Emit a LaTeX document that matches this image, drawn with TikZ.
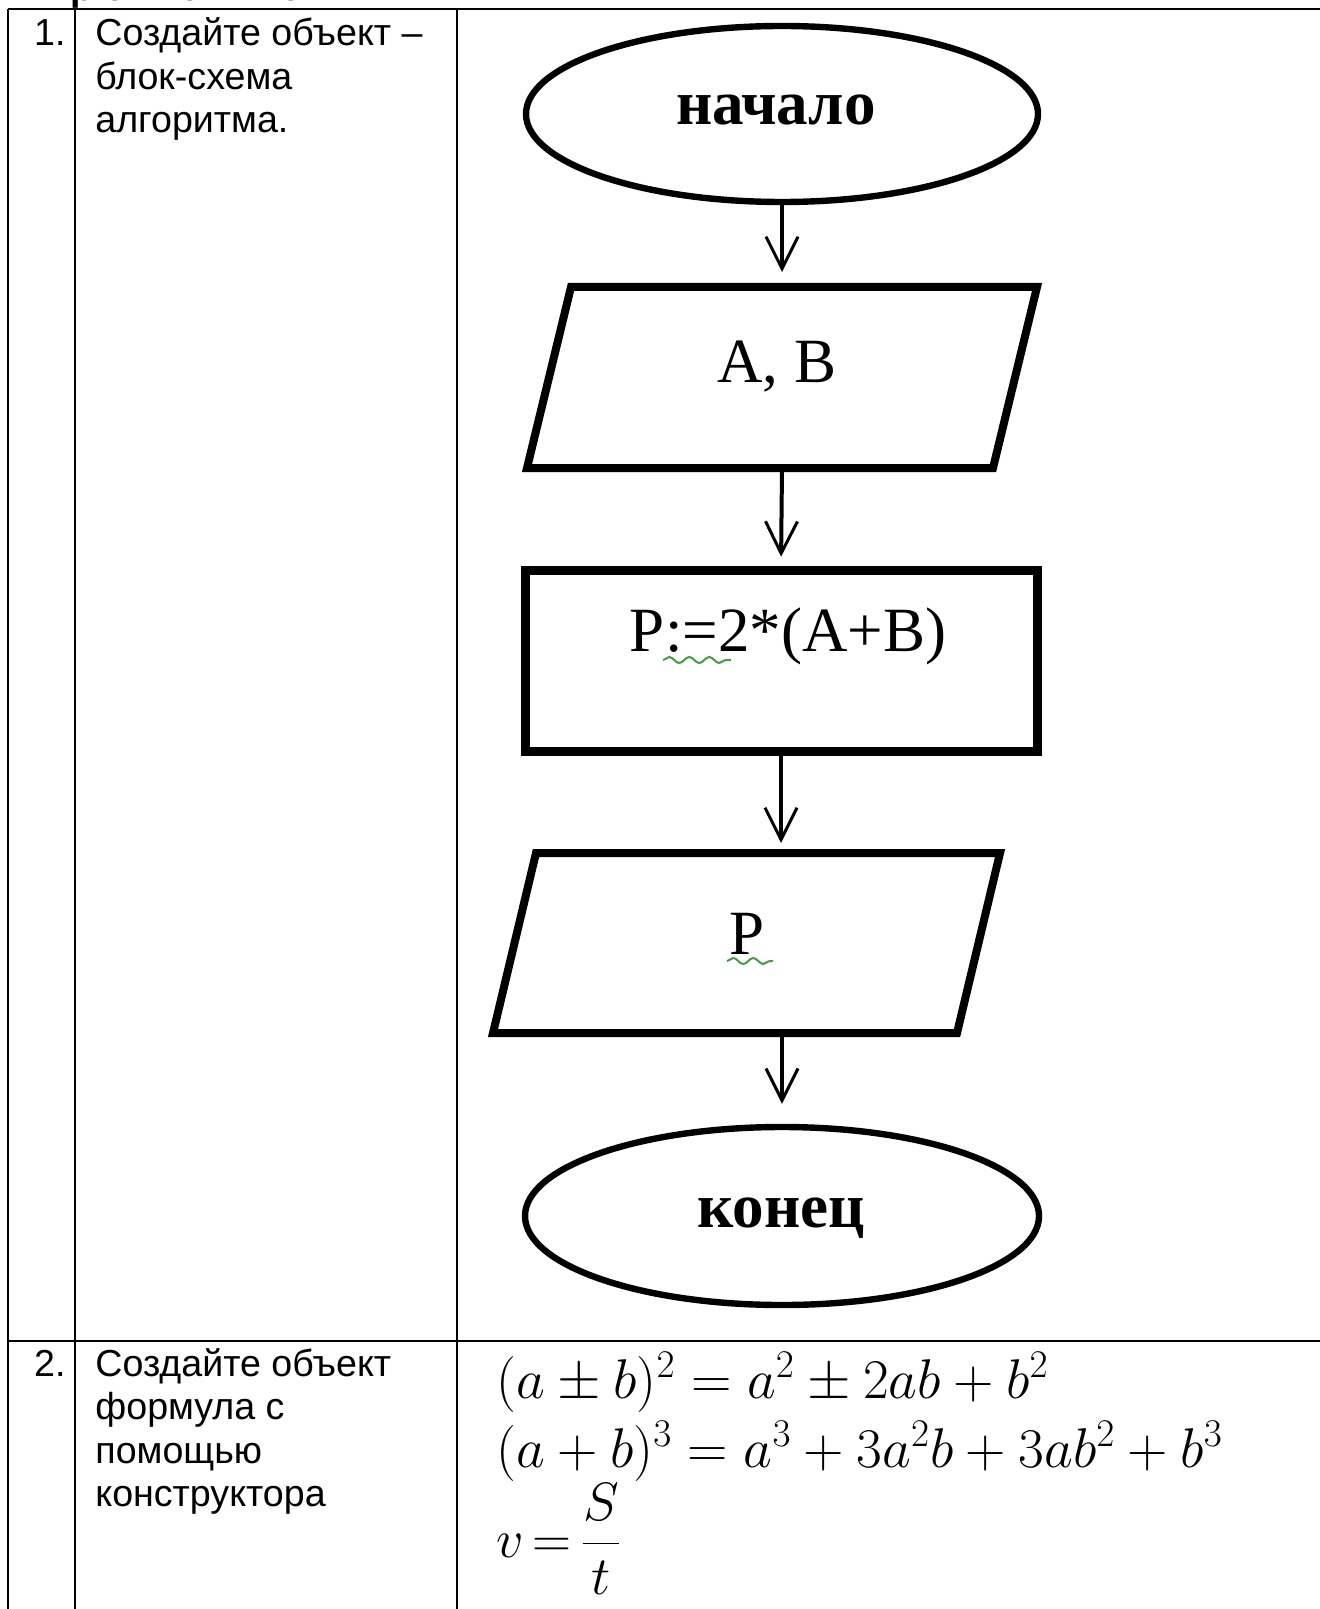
\RequirePackage{fix-cm}
\documentclass[tikz,border=0pt]{standalone}
\usepackage{fontspec}
\usetikzlibrary{arrows.meta,decorations.pathmorphing,shapes.geometric,calc}
\newfontfamily\arialf{Liberation Sans}
\newfontfamily\timesf{Liberation Serif}
\definecolor{squiggle}{RGB}{64,160,64}
\begin{document}
\begin{tikzpicture}[x=0.5pt,y=-0.5pt,
  grid/.style={line width=1.3pt},
  cell/.style={font=\arialf\fontsize{18.8}{21.75}\selectfont, anchor=base west, inner sep=0},
  term/.style={ellipse, draw, line width=3.2pt, inner sep=0},
  frame/.style={rectangle, inner sep=0, outer sep=0, draw=none},
  paraline/.style={line width=4pt, line join=miter},
  procbox/.style={rectangle, draw, line width=4.5pt, inner sep=0},
  lbl/.style={font=\timesf\fontsize{31.5}{36}\selectfont, anchor=base, inner sep=0},
  lblb/.style={font=\timesf\bfseries\fontsize{31.5}{36}\selectfont, anchor=base, inner sep=0},
  flow/.style={line width=2pt, -{Straight Barb[length=16pt,width=16pt,line width=1.5pt]}},
  squig/.style={draw=squiggle, line width=1pt, decorate, decoration={snake, segment length=10pt, amplitude=1.5pt}},
  mth/.style={font=\fontsize{28}{33}\selectfont, anchor=base west, inner sep=0},
]
\useasboundingbox (0,0) rectangle (1320,1609);

% clipped heading at the very top
\node[font=\arialf\bfseries\fontsize{18.8}{21}\selectfont\addfontfeature{LetterSpace=30}, anchor=base west, inner sep=0] (head) at (70,1) {решение};

% table
\draw[grid] (8,9) -- (1320,9);
\draw[grid] (8,9) -- (8,1609);
\draw[grid] (75,9) -- (75,1609);
\draw[grid] (457,9) -- (457,1609);
\draw[grid] (8,1341) -- (1320,1341);

% row 1 text
\node[cell, anchor=base east] (n1) at (66,46) {1.};
\node[cell] (t1a) at (95,46) {Создайте объект –};
\node[cell] (t1b) at (95,89.5) {блок-схема};
\node[cell] (t1c) at (95,133) {алгоритма.};

% row 2 text
\node[cell, anchor=base east] (n2) at (66,1376) {2.};
\node[cell] (t2a) at (95,1376) {Создайте объект};
\node[cell] (t2b) at (95,1419.5) {формула с};
\node[cell] (t2c) at (95,1463) {помощью};
\node[cell] (t2d) at (95,1506.5) {конструктора};

% flowchart
\node[term, minimum width=256pt, minimum height=88pt] (start) at (782,114) {};
\node[lblb] (startt) at (776,125) {начало};

\node[frame, minimum width=255pt, minimum height=90.5pt] (in1) at (782,377.5) {};
\draw[paraline] (in1.south west) -- ($(in1.south east)+(-44,0)$) -- (in1.north east) -- ($(in1.north west)+(44,0)$) -- cycle;
\node[lbl] (in1t) at (777,383) {A, B};

\node[procbox, minimum width=256pt, minimum height=90.5pt] (proc) at (781,660.5) {};
\node[lbl] (proct) at (788,651) {P:=2*(A+B)};
\draw[squig] (663,660) -- (731,660);

\node[frame, minimum width=253.5pt, minimum height=90pt] (in2) at (746.5,943) {};
\draw[paraline] (in2.south west) -- ($(in2.south east)+(-43,0)$) -- (in2.north east) -- ($(in2.north west)+(43,0)$) -- cycle;
\node[lbl] (in2t) at (747,954) {P};
\draw[squig] (727,961) -- (773,961);

\node[term, minimum width=257pt, minimum height=89pt] (stop) at (782,1216) {};
\node[lblb] (stopt) at (781,1227) {конец};

\draw[flow, shorten >=7.5pt] (start.south) -- (in1.north);
\draw[flow, shorten >=4.4pt] (in1.south) -- (proc.north);
\draw[flow, shorten >=5pt] (proc.south) -- (proc.south |- in2.north);
\draw[flow, shorten >=10pt] (stop.north |- in2.south) -- (stop.north);

% formulas
\node[mth] (f1) at (496,1398) {$(a\pm b)^2=a^2\pm 2ab+b^2$};
\node[mth] (f2) at (496,1467) {$(a+b)^3=a^3+3a^2b+3ab^2+b^3$};
\node[mth, font=\fontsize{27}{32}\selectfont] (f3) at (496,1557) {\thickmuskip=3mu $\displaystyle v=\frac{S}{t}$};
\end{tikzpicture}
\end{document}
